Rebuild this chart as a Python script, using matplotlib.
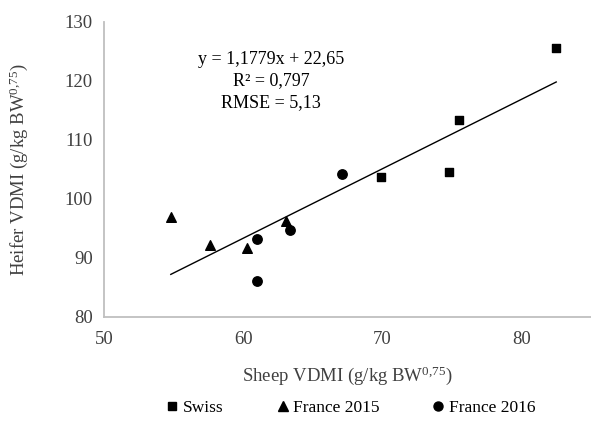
import numpy as np
import matplotlib
matplotlib.use("Agg")
import matplotlib.pyplot as plt
from matplotlib.lines import Line2D

plt.rcParams["font.family"] = ["Liberation Serif", "DejaVu Serif"]
plt.rcParams["mathtext.fontset"] = "custom"
plt.rcParams["mathtext.rm"] = "Liberation Serif"
plt.rcParams["mathtext.it"] = "Liberation Serif:italic"

# --- data ---
swiss_x = [82.5, 75.5, 74.8, 69.9]
swiss_y = [125.6, 113.3, 104.6, 103.7]

france2015_x = [54.8, 57.6, 60.3, 63.1]
france2015_y = [97.0, 92.1, 91.6, 96.2]

france2016_x = [61.0, 61.0, 63.4, 67.1]
france2016_y = [93.2, 86.1, 94.8, 104.2]

slope, intercept = 1.1779, 22.65
eq_lines = ["y = 1,1779x + 22,65", "R² = 0,797", "RMSE = 5,13"]

x_ticks = [50, 60, 70, 80]
y_ticks = [80, 90, 100, 110, 120, 130]

fig = plt.figure(figsize=(5.91, 4.23), dpi=100)
ax = fig.add_axes([0.176, 0.251, 0.824, 0.697])

ms = 40
ax.scatter(swiss_x, swiss_y, marker="s", s=ms, color="black", zorder=3)
ax.scatter(france2015_x, france2015_y, marker="^", s=ms + 8, color="black", zorder=3)
ax.scatter(france2016_x, france2016_y, marker="o", s=ms + 6, color="black", zorder=3)

# linear trendline over the data range
all_x = np.array(swiss_x + france2015_x + france2016_x)
xl = np.array([all_x.min(), all_x.max()])
ax.plot(xl, slope * xl + intercept, color="black", lw=1.0, zorder=2)

for i, line in enumerate(eq_lines):
    ax.text(62.0, 123.6 - i * 3.6, line, ha="center", va="center", fontsize=13)

ax.set_xlim(50, 85)
ax.set_ylim(80, 130)
ax.set_xticks(x_ticks)
ax.set_yticks(y_ticks)
ax.tick_params(length=0, labelsize=13.5, colors="#404040", pad=8)
ax.tick_params(axis="x", pad=10)
for s in ["top", "right"]:
    ax.spines[s].set_visible(False)
for s in ["left", "bottom"]:
    ax.spines[s].set_color("#bfbfbf")
    ax.spines[s].set_linewidth(1.3)

ax.set_xlabel(r"Sheep VDMI (g/kg BW$^{\mathrm{0{,}75}}$)", fontsize=13.5, color="#404040", labelpad=12)
ax.set_ylabel(r"Heifer VDMI (g/kg BW$^{\mathrm{0{,}75}}$)", fontsize=13.5, color="#404040", labelpad=25)

handles = [
    Line2D([], [], marker="s", ls="none", color="black", markersize=6),
    Line2D([], [], marker="^", ls="none", color="black", markersize=6.5),
    Line2D([], [], marker="o", ls="none", color="black", markersize=6.5),
]
fig.legend(handles, ["Swiss", "France 2015", "France 2016"], loc="center",
           bbox_to_anchor=(0.59, 0.035), ncol=3, frameon=False, fontsize=12.5,
           handletextpad=0.0, columnspacing=2.8, handlelength=1.2)

fig.savefig("out.png", dpi=100)
